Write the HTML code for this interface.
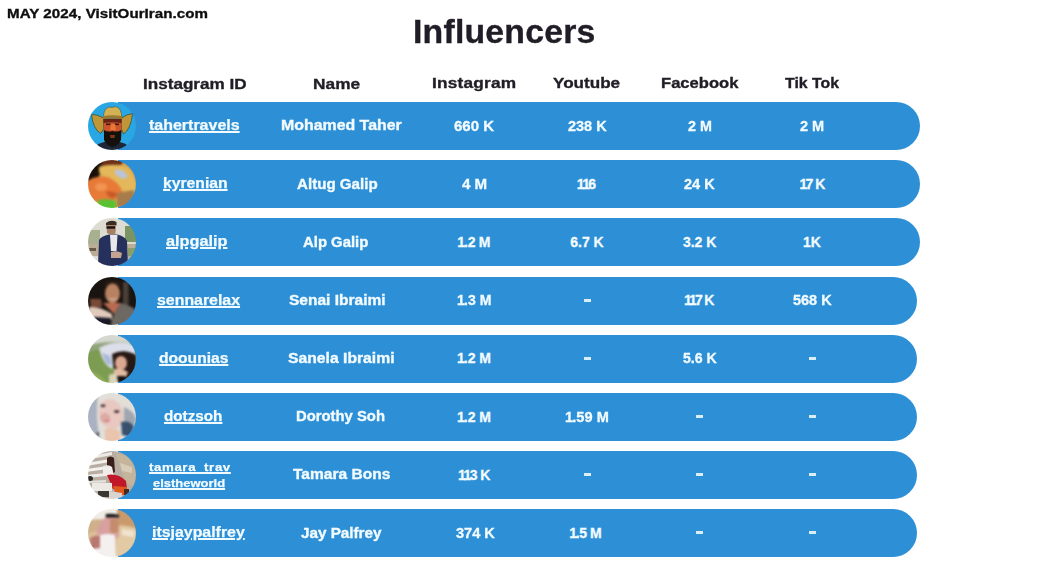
<!DOCTYPE html>
<html><head><meta charset="utf-8"><style>
html,body{margin:0;padding:0;}
body{width:1041px;height:569px;background:#fff;position:relative;overflow:hidden;font-family:"Liberation Sans",sans-serif;font-weight:bold;}
.t{position:absolute;white-space:nowrap;line-height:1;transform-origin:0 0;}
.bar{position:absolute;left:118px;width:801px;height:48px;background:#2d8fd6;border-radius:0 24px 24px 0;}
.av{position:absolute;left:88px;width:48px;height:48px;border-radius:50%;overflow:hidden;}
.dash{position:absolute;width:7px;height:3px;background:rgba(242,251,255,0.88);}
.av svg{display:block;position:absolute;left:-3px;top:-3px;width:54px;height:54px;}
</style></head><body>
<div class="t" style="left:7.00px;top:6.77px;font-size:13.5px;letter-spacing:0.045px;transform:scaleX(1.1200);color:#0e0e0e;-webkit-text-stroke:0.35px #0e0e0e;">MAY 2024, VisitOurIran.com</div>
<div class="t" style="left:413.00px;top:16.39px;font-size:32.5px;letter-spacing:0.189px;transform:scaleX(1.0400);color:#211d26;-webkit-text-stroke:0.35px #211d26;">Influencers</div>
<div class="t" style="left:143.00px;top:76.20px;font-size:15px;letter-spacing:0.000px;transform:scaleX(1.1403);color:#211d26;-webkit-text-stroke:0.35px #211d26;">Instagram ID</div>
<div class="t" style="left:313.40px;top:76.40px;font-size:15px;letter-spacing:0.064px;transform:scaleX(1.1500);color:#211d26;-webkit-text-stroke:0.35px #211d26;">Name</div>
<div class="t" style="left:431.90px;top:75.30px;font-size:15px;letter-spacing:0.179px;transform:scaleX(1.1500);color:#211d26;-webkit-text-stroke:0.35px #211d26;">Instagram</div>
<div class="t" style="left:553.20px;top:75.10px;font-size:15px;letter-spacing:0.000px;transform:scaleX(1.1392);color:#211d26;-webkit-text-stroke:0.35px #211d26;">Youtube</div>
<div class="t" style="left:660.80px;top:75.10px;font-size:15px;letter-spacing:0.000px;transform:scaleX(1.1056);color:#211d26;-webkit-text-stroke:0.35px #211d26;">Facebook</div>
<div class="t" style="left:785.00px;top:75.10px;font-size:15px;letter-spacing:0.000px;transform:scaleX(1.0566);color:#211d26;-webkit-text-stroke:0.35px #211d26;">Tik Tok</div>
<div class="bar" style="top:102px;width:801.5px"></div>
<div class="av" style="top:102px"><svg viewBox="-3 -3 54 54" style="filter:blur(0.54px)"><rect x="-4" y="-4" width="56" height="56" fill="#29a6e4"/><g>
<path d="M10 42 Q24 36 38 42 L42 50 L6 50Z" fill="#1c2838"/>
<path d="M3.5 12.5 Q9 12 15.5 16 L15.5 27 Q14 30 12.7 31.5 Q5 27 3.5 12.5Z" fill="#c09638" stroke="#2a4a24" stroke-width="0.7"/>
<path d="M44.5 11.5 Q39 12 33.5 16 L33.5 27 Q34.5 30 35.5 32 Q43 27 44.5 11.5Z" fill="#c09638" stroke="#2a4a24" stroke-width="0.7"/>
<path d="M15.5 16.5 Q15 7 21 5 Q24.5 6 28 4.6 Q34 6.5 33.8 16.5Z" fill="#d4b254" stroke="#3a4a22" stroke-width="0.5"/>
<path d="M15 14 Q24.5 12.5 34 14 L34 17 Q24.5 15.5 15 17Z" fill="#9a7a30"/>
<path d="M15.5 17 L33.5 17 L33.5 30 Q24.5 33 15.5 30Z" fill="#cc5428"/>
<path d="M15.5 17 L33.5 17 L33.5 21 Q24.5 19.5 15.5 21Z" fill="#6a2216"/>
<rect x="18" y="21.5" width="4.5" height="1.6" fill="#3a1a10"/>
<rect x="26.5" y="21.5" width="4.5" height="1.6" fill="#3a1a10"/>
<path d="M23 22 L27 22 L28 28 L22 28Z" fill="#e8783a"/>
<path d="M16 28 Q20 30.5 24.5 29 Q29 30.5 33.5 28 L33 38 Q30 44 24.5 45 Q19 44 16 38Z" fill="#16100c"/>
<path d="M22 33 L27 33 L26.5 36 L22.5 36Z" fill="#7a3a20"/>
</g></svg></div>
<div class="t" style="left:149.40px;top:118.03px;font-size:14.5px;letter-spacing:0.000px;transform:scaleX(1.1022);color:#f2fbff;-webkit-text-stroke:0.25px #f2fbff;text-decoration:underline;text-decoration-thickness:1.7px;text-underline-offset:1px;">tahertravels</div>
<div class="t" style="left:280.70px;top:118.33px;font-size:14.5px;letter-spacing:0.000px;transform:scaleX(1.0963);color:#f2fbff;-webkit-text-stroke:0.35px #f2fbff;">Mohamed Taher</div>
<div class="t" style="left:454.10px;top:118.75px;font-size:14px;letter-spacing:0.000px;transform:scaleX(1.0710);color:#f2fbff;-webkit-text-stroke:0.3px #f2fbff;">660 K</div>
<div class="t" style="left:567.60px;top:118.75px;font-size:14px;letter-spacing:0.000px;transform:scaleX(1.0335);color:#f2fbff;-webkit-text-stroke:0.3px #f2fbff;">238 K</div>
<div class="t" style="left:687.80px;top:118.75px;font-size:14px;letter-spacing:0.000px;transform:scaleX(1.0236);color:#f2fbff;-webkit-text-stroke:0.3px #f2fbff;">2 M</div>
<div class="t" style="left:800.00px;top:118.75px;font-size:14px;letter-spacing:0.000px;transform:scaleX(1.0364);color:#f2fbff;-webkit-text-stroke:0.3px #f2fbff;">2 M</div>
<div class="bar" style="top:160px;width:801.5px"></div>
<div class="av" style="top:160px"><svg viewBox="-3 -3 54 54" style="filter:blur(0.90px)"><rect x="-4" y="-4" width="56" height="56" fill="#d8a452"/><g>
<path d="M-2 -2 L17 -2 Q11 8 12 14 L7 23 L-2 26Z" fill="#1a1008"/>
<path d="M15 -2 L38 -2 L33 5 Q22 4 13 9Z" fill="#6a3018"/>
<path d="M11 7 Q26 2 40 8 Q49 18 48 34 L37 34 Q30 22 22 18 Q14 16 11 12Z" fill="#e4b85a"/>
<ellipse cx="33" cy="14" rx="7" ry="3.6" transform="rotate(28 33 14)" fill="#b8c4da"/>
<path d="M-2 22 Q8 14 22 18 Q32 24 34 32 Q30 42 16 42 L-2 40Z" fill="#e87a38"/>
<ellipse cx="13" cy="27" rx="6" ry="4" fill="#f29452"/>
<path d="M18 32 Q24 30 30 34 L26 38 Q20 38 18 32Z" fill="#c85a28"/>
<path d="M10 40 Q20 38 28 41 L28 50 L10 50Z" fill="#58c232"/>
<path d="M29 33 L46 30 L47 46 L29 47Z" fill="#a87c4a"/>
</g></svg></div>
<div class="t" style="left:163.40px;top:176.20px;font-size:14.5px;letter-spacing:-0.000px;transform:scaleX(1.0830);color:#f2fbff;-webkit-text-stroke:0.25px #f2fbff;text-decoration:underline;text-decoration-thickness:1.7px;text-underline-offset:1px;">kyrenian</div>
<div class="t" style="left:296.80px;top:176.50px;font-size:14.5px;letter-spacing:0.000px;transform:scaleX(1.0433);color:#f2fbff;-webkit-text-stroke:0.35px #f2fbff;">Altug Galip</div>
<div class="t" style="left:461.50px;top:176.92px;font-size:14px;letter-spacing:0.000px;transform:scaleX(1.0792);color:#f2fbff;-webkit-text-stroke:0.3px #f2fbff;">4 M</div>
<div class="t" style="left:576.80px;top:176.92px;font-size:14px;letter-spacing:-0.900px;transform:scaleX(1.0000);color:#f2fbff;-webkit-text-stroke:0.3px #f2fbff;"><span style="letter-spacing:-1.700px">1</span><span style="letter-spacing:-1.700px">1</span>6</div>
<div class="t" style="left:684.20px;top:176.92px;font-size:14px;letter-spacing:0.000px;transform:scaleX(1.0389);color:#f2fbff;-webkit-text-stroke:0.3px #f2fbff;">24 K</div>
<div class="t" style="left:799.50px;top:176.92px;font-size:14px;letter-spacing:-1.017px;transform:scaleX(1.0000);color:#f2fbff;-webkit-text-stroke:0.3px #f2fbff;"><span style="letter-spacing:-1.817px">1</span>7 K</div>
<div class="bar" style="top:218px;width:801.5px"></div>
<div class="av" style="top:218px"><svg viewBox="-3 -3 54 54" style="filter:blur(0.63px)"><rect x="-4" y="-4" width="56" height="56" fill="#dcdcd2"/><g>
<rect x="-2" y="12" width="14" height="14" fill="#a8b090"/>
<rect x="37" y="8" width="12" height="16" fill="#7c9462"/>
<rect x="-2" y="26" width="52" height="24" fill="#bcae96"/>
<rect x="-2" y="30" width="10" height="3" fill="#6a5a48"/>
<rect x="40" y="30" width="8" height="8" fill="#8aa068"/>
<rect x="-2" y="38" width="12" height="12" fill="#e0dcd4"/>
<path d="M10 50 L11 22 Q13 18 21 16.5 L29 16.5 Q37 18 39 23 L40 50Z" fill="#25305c"/>
<path d="M22 17 L29.5 17 L28.5 33 L23 33Z" fill="#e8e8ec"/>
<path d="M18 5 Q23 1 28.5 4 L28.5 7.5 L18 7.5Z" fill="#3a2c22"/>
<path d="M18.5 7 L28 7 L27.5 15.5 Q23 17.5 19 15Z" fill="#a88068"/>
<rect x="18.5" y="8.3" width="8.5" height="2.4" fill="#121212"/>
<path d="M23 34 Q29 32 34 35 L33 40 L23 40Z" fill="#c4a490"/>
</g></svg></div>
<div class="t" style="left:165.50px;top:234.37px;font-size:14.5px;letter-spacing:-0.000px;transform:scaleX(1.1204);color:#f2fbff;-webkit-text-stroke:0.25px #f2fbff;text-decoration:underline;text-decoration-thickness:1.7px;text-underline-offset:1px;">alpgalip</div>
<div class="t" style="left:302.70px;top:234.67px;font-size:14.5px;letter-spacing:0.000px;transform:scaleX(1.0259);color:#f2fbff;-webkit-text-stroke:0.35px #f2fbff;">Alp Galip</div>
<div class="t" style="left:457.30px;top:235.09px;font-size:14px;letter-spacing:-0.250px;transform:scaleX(1.0000);color:#f2fbff;-webkit-text-stroke:0.3px #f2fbff;"><span style="letter-spacing:-1.050px">1</span>.2 M</div>
<div class="t" style="left:570.30px;top:235.09px;font-size:14px;letter-spacing:-0.012px;transform:scaleX(1.0000);color:#f2fbff;-webkit-text-stroke:0.3px #f2fbff;">6.7 K</div>
<div class="t" style="left:683.00px;top:235.09px;font-size:14px;letter-spacing:-0.038px;transform:scaleX(1.0000);color:#f2fbff;-webkit-text-stroke:0.3px #f2fbff;">3.2 K</div>
<div class="t" style="left:803.10px;top:235.09px;font-size:14px;letter-spacing:-1.550px;transform:scaleX(1.0000);color:#f2fbff;-webkit-text-stroke:0.3px #f2fbff;"><span style="letter-spacing:-2.350px">1</span> K</div>
<div class="bar" style="top:277px;width:799px"></div>
<div class="av" style="top:277px"><svg viewBox="-3 -3 54 54" style="filter:blur(0.90px)"><rect x="-4" y="-4" width="56" height="56" fill="#1a1410"/><g>
<rect x="35" y="5" width="5.5" height="24" fill="#4a4038"/>
<ellipse cx="25" cy="8" rx="8" ry="4" fill="#2c1e16"/>
<ellipse cx="24.5" cy="16.5" rx="7.5" ry="10" fill="#b88262"/>
<path d="M21 20.5 Q25 23 29 20.5 L28.5 22 Q25 24.5 21.5 22Z" fill="#d8b8a4"/>
<path d="M15 26 L33 26 L26 37 Z" fill="#b86a50"/>
<path d="M26 37 L33 26 Q40 28 47 32 L47 50 L22 50Z" fill="#6e6862"/>
<path d="M2 22 L13 22 L14 30 L3 31Z" fill="#7a4a38"/>
<path d="M1 30 Q12 29 24 37 L24 43 Q11 43 1 39Z" fill="#e0cabc"/>
<path d="M7 40 L23 41 L23 46 L7 45Z" fill="#1a1a2a"/>
</g></svg></div>
<div class="t" style="left:157.00px;top:292.54px;font-size:14.5px;letter-spacing:0.000px;transform:scaleX(1.0957);color:#f2fbff;-webkit-text-stroke:0.25px #f2fbff;text-decoration:underline;text-decoration-thickness:1.7px;text-underline-offset:1px;">sennarelax</div>
<div class="t" style="left:288.70px;top:292.84px;font-size:14.5px;letter-spacing:0.000px;transform:scaleX(1.0704);color:#f2fbff;-webkit-text-stroke:0.35px #f2fbff;">Senai Ibraimi</div>
<div class="t" style="left:456.90px;top:293.26px;font-size:14px;letter-spacing:0.000px;transform:scaleX(1.0058);color:#f2fbff;-webkit-text-stroke:0.3px #f2fbff;"><span style="letter-spacing:-0.800px">1</span>.3 M</div>
<div class="dash" style="left:583.5px;top:298.5px"></div>
<div class="t" style="left:684.00px;top:293.26px;font-size:14px;letter-spacing:-1.150px;transform:scaleX(1.0000);color:#f2fbff;-webkit-text-stroke:0.3px #f2fbff;"><span style="letter-spacing:-1.950px">1</span><span style="letter-spacing:-1.950px">1</span>7 K</div>
<div class="t" style="left:793.00px;top:293.26px;font-size:14px;letter-spacing:0.000px;transform:scaleX(1.0335);color:#f2fbff;-webkit-text-stroke:0.3px #f2fbff;">568 K</div>
<div class="bar" style="top:335px;width:799px"></div>
<div class="av" style="top:335px"><svg viewBox="-3 -3 54 54" style="filter:blur(0.90px)"><rect x="-4" y="-4" width="56" height="56" fill="#7c9c52"/><g>
<path d="M-2 -2 L50 -2 L50 9 Q24 5 -2 12Z" fill="#d4d8d0"/>
<path d="M-2 11 Q18 5 40 8 L30 12 Q14 12 -2 18Z" fill="#92a47a"/>
<path d="M-2 36 Q10 36 20 48 L-2 50Z" fill="#8eae58"/>
<path d="M11 13 Q28 4 47 10 L48 21 Q38 16 29 20 L24 34 Q15 30 11 13Z" fill="#dcdeea"/>
<path d="M14 18 L22 21 L24 31 L18 28Z" fill="#a8b8d8"/>
<path d="M24 19 Q36 13 48 20 L48 50 L32 50 Q25 38 24 19Z" fill="#261814"/>
<ellipse cx="33" cy="28" rx="6" ry="7" fill="#dca890"/>
<path d="M26 34 Q33 32 40 37 L38 42 L26 41Z" fill="#e2baa2"/>
<path d="M21 40 L28 38 L31 50 L21 50Z" fill="#dcd4b8"/>
<rect x="30" y="41" width="7" height="8" fill="#161212"/>
</g></svg></div>
<div class="t" style="left:159.40px;top:350.71px;font-size:14.5px;letter-spacing:0.000px;transform:scaleX(1.0768);color:#f2fbff;-webkit-text-stroke:0.25px #f2fbff;text-decoration:underline;text-decoration-thickness:1.7px;text-underline-offset:1px;">doounias</div>
<div class="t" style="left:287.70px;top:351.01px;font-size:14.5px;letter-spacing:0.000px;transform:scaleX(1.0834);color:#f2fbff;-webkit-text-stroke:0.35px #f2fbff;">Sanela Ibraimi</div>
<div class="t" style="left:456.90px;top:351.43px;font-size:14px;letter-spacing:-0.050px;transform:scaleX(1.0000);color:#f2fbff;-webkit-text-stroke:0.3px #f2fbff;"><span style="letter-spacing:-0.850px">1</span>.2 M</div>
<div class="dash" style="left:583.5px;top:356.7px"></div>
<div class="t" style="left:682.60px;top:351.43px;font-size:14px;letter-spacing:0.000px;transform:scaleX(1.0105);color:#f2fbff;-webkit-text-stroke:0.3px #f2fbff;">5.6 K</div>
<div class="dash" style="left:808.5px;top:356.7px"></div>
<div class="bar" style="top:393px;width:799px"></div>
<div class="av" style="top:393px"><svg viewBox="-3 -3 54 54" style="filter:blur(0.99px)"><rect x="-4" y="-4" width="56" height="56" fill="#e2ded8"/><g>
<path d="M-2 2 L10 2 Q7 24 12 46 L-2 48Z" fill="#aab2c2"/>
<ellipse cx="23" cy="21" rx="12" ry="15" transform="rotate(-18 23 21)" fill="#e8c8c0"/>
<ellipse cx="17" cy="25" rx="5" ry="5" fill="#dcaaa4"/>
<ellipse cx="15" cy="12.7" rx="2.6" ry="1.3" fill="#3a2a2a"/>
<ellipse cx="28.7" cy="18.6" rx="2.8" ry="1.4" fill="#3a2a2a"/>
<ellipse cx="19" cy="27.8" rx="3" ry="1.4" fill="#d48888"/>
<path d="M36 14 Q46 18 48 26 L46 34 L36 30Z" fill="#a0a6b0"/>
<path d="M33 29 Q42 27 46 34 L42 44 L34 42Z" fill="#36506e"/>
<path d="M17 36 Q25 34 32 38 L32 50 L17 50Z" fill="#eac4ac"/>
<ellipse cx="10" cy="41" rx="1" ry="2" fill="#2a2a2a"/>
</g></svg></div>
<div class="t" style="left:164.20px;top:408.88px;font-size:14.5px;letter-spacing:0.000px;transform:scaleX(1.0513);color:#f2fbff;-webkit-text-stroke:0.25px #f2fbff;text-decoration:underline;text-decoration-thickness:1.7px;text-underline-offset:1px;">dotzsoh</div>
<div class="t" style="left:296.30px;top:409.18px;font-size:14.5px;letter-spacing:0.000px;transform:scaleX(1.0230);color:#f2fbff;-webkit-text-stroke:0.35px #f2fbff;">Dorothy Soh</div>
<div class="t" style="left:456.90px;top:409.60px;font-size:14px;letter-spacing:-0.050px;transform:scaleX(1.0000);color:#f2fbff;-webkit-text-stroke:0.3px #f2fbff;"><span style="letter-spacing:-0.850px">1</span>.2 M</div>
<div class="t" style="left:564.90px;top:409.60px;font-size:14px;letter-spacing:0.000px;transform:scaleX(1.0429);color:#f2fbff;-webkit-text-stroke:0.3px #f2fbff;"><span style="letter-spacing:-0.800px">1</span>.59 M</div>
<div class="dash" style="left:696.2px;top:414.9px"></div>
<div class="dash" style="left:808.5px;top:414.9px"></div>
<div class="bar" style="top:451px;width:799px"></div>
<div class="av" style="top:451px"><svg viewBox="-3 -3 54 54" style="filter:blur(0.72px)"><rect x="-4" y="-4" width="56" height="56" fill="#b8ada2"/><g>
<path d="M-2 6 L24 1 L24 4 L-2 9Z" fill="#eeebe6"/>
<path d="M-2 12 L22 8 L22 11 L-2 15Z" fill="#f2f0ec"/>
<path d="M-2 18 L20 15 L20 18 L-2 21Z" fill="#f4f2ee"/>
<path d="M-2 24 L18 22 L18 25 L-2 27Z" fill="#eeece8"/>
<path d="M-2 30 L18 29 L18 31.5 L-2 32Z" fill="#e4e0dc"/>
<path d="M28 2 L48 8 L48 36 L38 32 L30 10Z" fill="#c4b49c"/>
<path d="M32 12 L44 16 L44 22 L34 20Z" fill="#d8ccb8"/>
<path d="M19 7 Q22.5 4 26 7 L27 21 L24 23 L19 19Z" fill="#3a2018"/>
<path d="M15 15 Q21 13 24 16 L26 25 L15 25Z" fill="#f0ecea"/>
<path d="M19 24 Q30 22 38 30 L39 38 L25 38Z" fill="#c01828"/>
<path d="M25 35 L39 36 L38 44 L28 44Z" fill="#e05a1c"/>
<path d="M36 38 L41 38 L41 44 L36 44Z" fill="#4a2a20"/>
<path d="M4 32 L24 32 L24 40 L4 40Z" fill="#ece8e4"/>
<path d="M10 40 L21 40 L21 46 L10 46Z" fill="#3a3634"/>
<path d="M21 40 L34 42 L34 50 L21 50Z" fill="#d8d4d0"/>
<ellipse cx="2" cy="27.5" rx="3" ry="2.5" fill="#2a2a2a"/>
</g></svg></div>
<div class="t" style="left:149.40px;top:462.27px;font-size:11.5px;letter-spacing:0.541px;transform:scaleX(1.1500);color:#f2fbff;-webkit-text-stroke:0.25px #f2fbff;text-decoration:underline;text-decoration-thickness:1.5px;text-underline-offset:1px;">tamara_trav</div>
<div class="t" style="left:153.40px;top:478.07px;font-size:11.5px;letter-spacing:0.000px;transform:scaleX(1.1283);color:#f2fbff;-webkit-text-stroke:0.25px #f2fbff;text-decoration:underline;text-decoration-thickness:1.5px;text-underline-offset:1px;">elstheworld</div>
<div class="t" style="left:292.80px;top:467.35px;font-size:14.5px;letter-spacing:0.000px;transform:scaleX(1.0716);color:#f2fbff;-webkit-text-stroke:0.35px #f2fbff;">Tamara Bons</div>
<div class="t" style="left:457.90px;top:467.77px;font-size:14px;letter-spacing:-0.650px;transform:scaleX(1.0000);color:#f2fbff;-webkit-text-stroke:0.3px #f2fbff;"><span style="letter-spacing:-1.450px">1</span><span style="letter-spacing:-1.450px">1</span>3 K</div>
<div class="dash" style="left:583.5px;top:473.0px"></div>
<div class="dash" style="left:696.2px;top:473.0px"></div>
<div class="dash" style="left:808.5px;top:473.0px"></div>
<div class="bar" style="top:509px;width:799px"></div>
<div class="av" style="top:509px"><svg viewBox="-3 -3 54 54" style="filter:blur(1.08px)"><rect x="-4" y="-4" width="56" height="56" fill="#dcbf98"/><g>
<path d="M-2 -2 L30 -2 L30 10 Q14 9 -2 14Z" fill="#f0ece6"/>
<path d="M-2 12 Q8 9 16 11 L10 22 L-2 24Z" fill="#cfb08a"/>
<path d="M29 -2 L50 -2 L50 20 Q40 16 29 16Z" fill="#c99a6c"/>
<path d="M30 18 Q40 16 50 20 L50 50 L28 50Z" fill="#e2caa4"/>
<path d="M34 20 L46 22 L46 28 L34 26Z" fill="#f0e4d0"/>
<path d="M9 21 Q13 10 19 8 L30.5 8.5 L31 28 L20 32 L10 30Z" fill="#d8a0a0"/>
<path d="M17.7 5 Q24 4 31 6 L31 8.6 L17.7 8.6Z" fill="#181818"/>
<path d="M22 10 L30.5 10 L30.5 23 Q26 25 22 23Z" fill="#c48c6c"/>
<path d="M5 30 Q14 23 27 26 L28 50 L5 50Z" fill="#f4f0f0"/>
<path d="M2 29 Q7 26 12 27 L12 39 L3 40Z" fill="#b87870"/>
</g></svg></div>
<div class="t" style="left:152.10px;top:525.22px;font-size:14.5px;letter-spacing:0.000px;transform:scaleX(1.0963);color:#f2fbff;-webkit-text-stroke:0.25px #f2fbff;text-decoration:underline;text-decoration-thickness:1.7px;text-underline-offset:1px;">itsjaypalfrey</div>
<div class="t" style="left:300.80px;top:525.52px;font-size:14.5px;letter-spacing:0.000px;transform:scaleX(1.0509);color:#f2fbff;-webkit-text-stroke:0.35px #f2fbff;">Jay Palfrey</div>
<div class="t" style="left:456.30px;top:525.94px;font-size:14px;letter-spacing:0.000px;transform:scaleX(1.0388);color:#f2fbff;-webkit-text-stroke:0.3px #f2fbff;">374 K</div>
<div class="t" style="left:569.30px;top:525.94px;font-size:14px;letter-spacing:-0.475px;transform:scaleX(1.0000);color:#f2fbff;-webkit-text-stroke:0.3px #f2fbff;"><span style="letter-spacing:-1.275px">1</span>.5 M</div>
<div class="dash" style="left:696.2px;top:531.2px"></div>
<div class="dash" style="left:808.5px;top:531.2px"></div>
</body></html>
